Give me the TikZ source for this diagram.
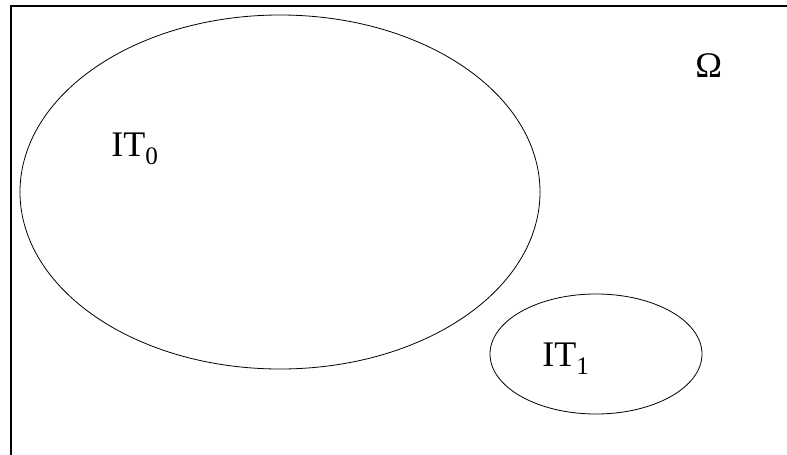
\documentclass[tikz,border=0pt]{standalone}
\usepackage{fontspec}
\setmainfont{Liberation Serif}
\begin{document}
\begin{tikzpicture}[x=1pt, y=-1pt, line width=0.8pt]
    \tikzset{setlabel/.style={anchor=base west, inner sep=0pt, font=\fontsize{36}{40}\selectfont}}
    \useasboundingbox (0,0) rectangle (787,455);

    % Universe frame (cut off at right and bottom)
    \draw[line width=1.2pt] (11,455) -- (11,6) -- (787,6);

    % Sets
    \draw (280,192) ellipse [x radius=260, y radius=177];
    \draw (596,354) ellipse [x radius=106, y radius=60];

    % Labels
    \node[setlabel] (omega) at (695,77) {Ω};
    \node[setlabel] (it0) at (111,156) {IT\textsubscript{0}};
    \node[setlabel] (it1) at (542,366) {IT\textsubscript{1}};
\end{tikzpicture}
\end{document}
